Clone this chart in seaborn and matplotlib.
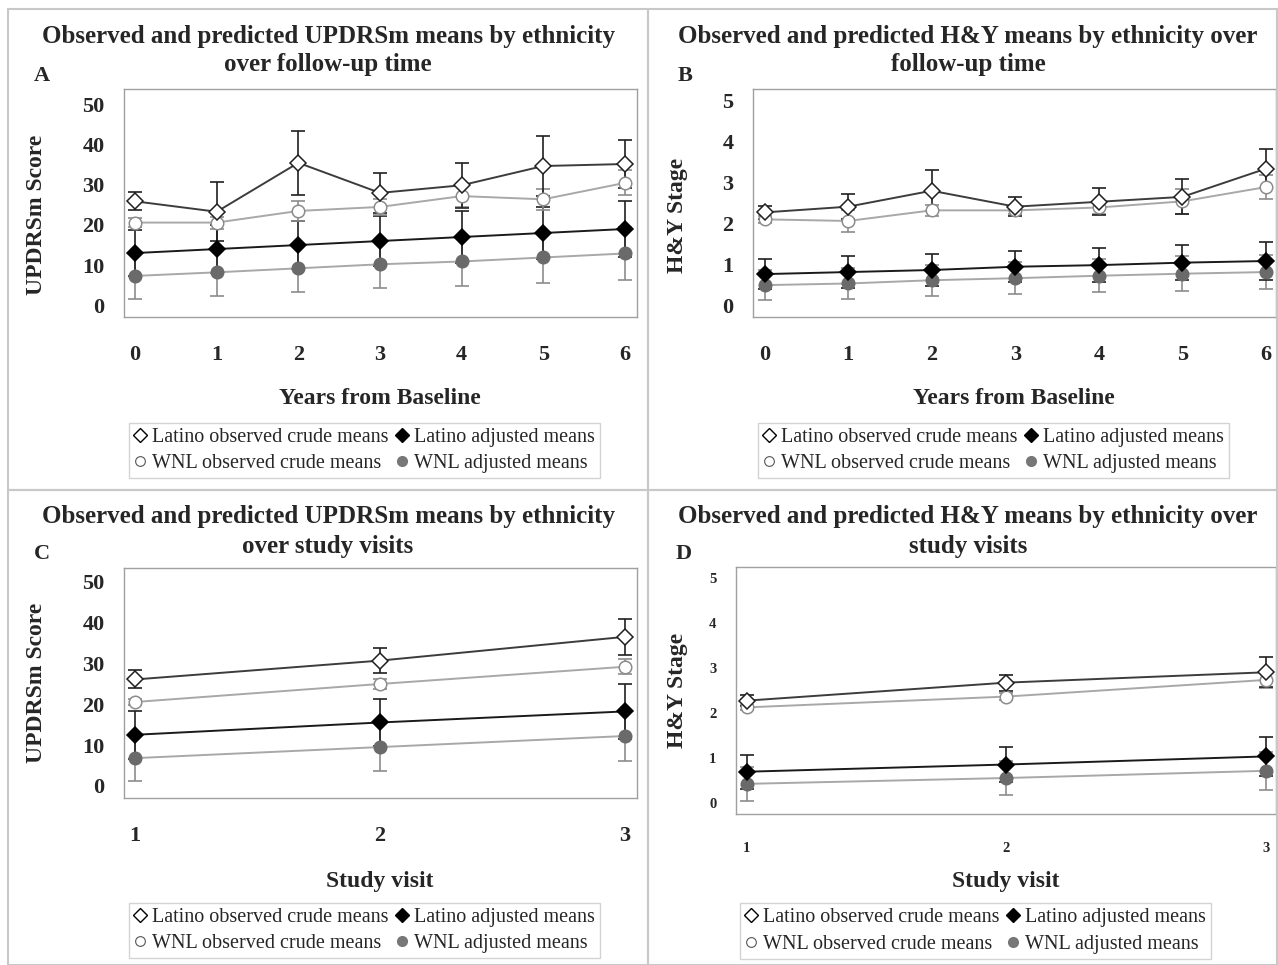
import matplotlib
matplotlib.use("Agg")
import matplotlib.pyplot as plt
from matplotlib.lines import Line2D
from matplotlib.patches import Rectangle
import seaborn as sns

# ---- data ----
years = [0, 1, 2, 3, 4, 5, 6]
visits = [1, 2, 3]

# A: UPDRSm by follow-up year
a_lat_crude = [25.9, 23.3, 35.5, 28.0, 29.9, 34.7, 35.2]
a_lat_crude_err = [2.2, 7.3, 8.0, 5.0, 5.6, 7.5, 6.0]
a_wnl_crude = [20.6, 20.6, 23.5, 24.5, 27.2, 26.4, 30.5]
a_wnl_crude_err = [1.2, 1.5, 2.5, 2.0, 2.8, 2.6, 3.1]
a_lat_adj = [13.0, 14.0, 15.0, 16.0, 17.0, 18.0, 19.0]
a_lat_adj_err = [5.8, 6.0, 6.0, 6.3, 6.4, 6.5, 7.0]
a_wnl_adj = [7.3, 8.2, 9.2, 10.2, 10.9, 11.9, 12.9]
a_wnl_adj_err = [5.7, 5.8, 5.8, 6.0, 6.0, 6.3, 6.5]

# B: H&Y by follow-up year
b_lat_crude = [2.27, 2.41, 2.80, 2.41, 2.53, 2.65, 3.34]
b_lat_crude_err = [0.16, 0.31, 0.50, 0.23, 0.33, 0.43, 0.48]
b_wnl_crude = [2.10, 2.06, 2.32, 2.32, 2.39, 2.54, 2.89]
b_wnl_crude_err = [0.08, 0.27, 0.13, 0.10, 0.17, 0.31, 0.29]
b_lat_adj = [0.76, 0.81, 0.86, 0.94, 0.98, 1.04, 1.08]
b_lat_adj_err = [0.36, 0.40, 0.39, 0.38, 0.41, 0.43, 0.46]
b_wnl_adj = [0.49, 0.53, 0.61, 0.66, 0.72, 0.77, 0.81]
b_wnl_adj_err = [0.37, 0.37, 0.38, 0.39, 0.41, 0.43, 0.42]

# C: UPDRSm by study visit
c_lat_crude = [26.0, 30.6, 36.4]
c_lat_crude_err = [2.2, 3.1, 4.4]
c_wnl_crude = [20.5, 24.9, 29.1]
c_wnl_crude_err = [0.8, 1.2, 1.8]
c_lat_adj = [12.5, 15.5, 18.2]
c_lat_adj_err = [5.8, 5.8, 6.7]
c_wnl_adj = [6.8, 9.5, 12.2]
c_wnl_adj_err = [5.5, 5.8, 6.1]

# D: H&Y by study visit
d_lat_crude = [2.27, 2.67, 2.90]
d_lat_crude_err = [0.13, 0.18, 0.33]
d_wnl_crude = [2.12, 2.36, 2.73]
d_wnl_crude_err = [0.05, 0.08, 0.17]
d_lat_adj = [0.69, 0.85, 1.03]
d_lat_adj_err = [0.38, 0.39, 0.44]
d_wnl_adj = [0.42, 0.55, 0.71]
d_wnl_adj_err = [0.38, 0.38, 0.42]

legend_labels = ["Latino observed crude means", "WNL observed crude means",
                 "Latino adjusted means", "WNL adjusted means"]

sns.set_style("white")
plt.rcParams["font.family"] = ["Liberation Serif", "DejaVu Serif"]

W, H = 1278, 965
fig = plt.figure(figsize=(W / 100, H / 100), dpi=100)


def px_axes(left, top, right, bottom):
    return fig.add_axes([left / W, 1 - bottom / H, (right - left) / W, (bottom - top) / H])


def ftext(x, y, s, **kw):
    fig.text(x / W, 1 - y / H, s, **kw)


# panel cell borders
for (x0, y0, x1, y1) in [(8, 9, 648, 490), (648, 9, 1277, 490),
                         (8, 490, 648, 965), (648, 490, 1277, 965)]:
    fig.add_artist(Rectangle((x0 / W, 1 - y1 / H), (x1 - x0) / W, (y1 - y0) / H,
                             transform=fig.transFigure, fill=False,
                             edgecolor="#c8c8c8", linewidth=1.5))

LAT_LINE = "#3c3c3c"
WNL_LINE = "#a8a8a8"
WNL_FILL = "#6a6a6a"

styles = {
    "lat_crude": dict(color=LAT_LINE, marker="D", markerfacecolor="white",
                      markeredgecolor="#202020", ecolor="#202020", ms=8),
    "wnl_crude": dict(color=WNL_LINE, marker="o", markerfacecolor="white",
                      markeredgecolor="#8c8c8c", ecolor="#8c8c8c", ms=9),
    "lat_adj": dict(color="#1a1a1a", marker="D", markerfacecolor="black",
                    markeredgecolor="black", ecolor="#202020", ms=8),
    "wnl_adj": dict(color=WNL_LINE, marker="o", markerfacecolor=WNL_FILL,
                    markeredgecolor=WNL_FILL, ecolor="#8c8c8c", ms=9),
}


def draw_panel(ax, x, series, xlim, ylim, yticks, xticks, tick_fs):
    for key, (vals, errs) in series.items():
        st = styles[key]
        ax.errorbar(x, vals, yerr=errs, fmt="none", ecolor=st["ecolor"],
                    elinewidth=1.2, capsize=5, capthick=1.2, zorder=2)
    for key, (vals, errs) in series.items():
        st = styles[key]
        sns.lineplot(x=x, y=vals, ax=ax, color=st["color"], linewidth=1.4,
                     marker=st["marker"], markersize=st["ms"],
                     markerfacecolor=st["markerfacecolor"],
                     markeredgecolor=st["markeredgecolor"], markeredgewidth=1.1,
                     zorder=3)
    ax.set_xlim(*xlim)
    ax.set_ylim(*ylim)
    ax.set_xticks(xticks)
    ax.set_yticks(yticks)
    ax.set_xlabel("")
    ax.set_ylabel("")
    for s in ax.spines.values():
        s.set_color("#a0a0a0")
        s.set_linewidth(1.0)
    ax.tick_params(axis="both", direction="out", color="#a0a0a0", width=1.0,
                   length=8, labelsize=tick_fs)
    ax.tick_params(axis="x", pad=12)
    ax.tick_params(axis="y", pad=6)
    for lab in ax.get_xticklabels() + ax.get_yticklabels():
        lab.set_fontweight("bold")


def add_legend(left, top, right, bottom):
    handles = [
        Line2D([], [], linestyle="none", marker="D", ms=7, mfc="white", mec="black", mew=1.0),
        Line2D([], [], linestyle="none", marker="o", ms=7, mfc="white", mec="#555555", mew=0.8),
        Line2D([], [], linestyle="none", marker="D", ms=7, mfc="black", mec="black"),
        Line2D([], [], linestyle="none", marker="o", ms=7, mfc="#777777", mec="#777777"),
    ]
    leg = fig.legend(handles, legend_labels, ncol=2, loc="center",
                     bbox_to_anchor=(((left + right) / 2) / W, 1 - ((top + bottom) / 2) / H),
                     fontsize=14.5, frameon=True, fancybox=False, handlelength=0.6,
                     handletextpad=0.3, columnspacing=0.4, labelspacing=0.38,
                     borderpad=0.25, borderaxespad=0)
    leg.get_frame().set_edgecolor("#c8c8c8")
    leg.get_frame().set_linewidth(1.0)


title_kw = dict(fontsize=18, fontweight="bold", ha="center", va="center")
label_kw = dict(fontsize=17, fontweight="bold", ha="center", va="center")
letter_kw = dict(fontsize=16, fontweight="bold", ha="center", va="center")

# ---- Panel A ----
axA = px_axes(124, 89, 637, 317)
draw_panel(axA, years,
           {"wnl_adj": (a_wnl_adj, a_wnl_adj_err), "lat_adj": (a_lat_adj, a_lat_adj_err),
            "wnl_crude": (a_wnl_crude, a_wnl_crude_err), "lat_crude": (a_lat_crude, a_lat_crude_err)},
           (-0.135, 6.147), (-2.94, 53.9), [0, 10, 20, 30, 40, 50], years, 16)
ftext(328, 36, "Observed and predicted UPDRSm means by ethnicity", **title_kw)
ftext(328, 65, "over follow-up time", **title_kw)
ftext(42, 76, "A", **letter_kw)
ftext(37, 215, "UPDRSm Score", rotation=90, **label_kw)
ftext(380, 399, "Years from Baseline", **label_kw)
add_legend(123, 423, 606, 478)

# ---- Panel B ----
axB = px_axes(753, 89, 1276, 317)
draw_panel(axB, years,
           {"wnl_adj": (b_wnl_adj, b_wnl_adj_err), "lat_adj": (b_lat_adj, b_lat_adj_err),
            "wnl_crude": (b_wnl_crude, b_wnl_crude_err), "lat_crude": (b_lat_crude, b_lat_crude_err)},
           (-0.138, 6.12), (-0.29, 5.29), [0, 1, 2, 3, 4, 5], years, 16)
ftext(968, 36, "Observed and predicted H&Y means by ethnicity over", **title_kw)
ftext(968, 65, "follow-up time", **title_kw)
ftext(685, 76, "B", **letter_kw)
ftext(678, 215, "H&Y Stage", rotation=90, **label_kw)
ftext(1014, 399, "Years from Baseline", **label_kw)
add_legend(753, 423, 1234, 478)

# ---- Panel C ----
axC = px_axes(124, 568, 637, 798)
draw_panel(axC, visits,
           {"wnl_adj": (c_wnl_adj, c_wnl_adj_err), "lat_adj": (c_lat_adj, c_lat_adj_err),
            "wnl_crude": (c_wnl_crude, c_wnl_crude_err), "lat_crude": (c_lat_crude, c_lat_crude_err)},
           (0.955, 3.049), (-2.93, 53.2), [0, 10, 20, 30, 40, 50], visits, 16)
ftext(328, 517, "Observed and predicted UPDRSm means by ethnicity", **title_kw)
ftext(328, 546, "over study visits", **title_kw)
ftext(42, 554, "C", **letter_kw)
ftext(37, 683, "UPDRSm Score", rotation=90, **label_kw)
ftext(380, 881, "Study visit", **label_kw)
add_legend(123, 903, 606, 958)

# ---- Panel D ----
axD = px_axes(736, 567, 1276, 814)
draw_panel(axD, visits,
           {"wnl_adj": (d_wnl_adj, d_wnl_adj_err), "lat_adj": (d_lat_adj, d_lat_adj_err),
            "wnl_crude": (d_wnl_crude, d_wnl_crude_err), "lat_crude": (d_lat_crude, d_lat_crude_err)},
           (0.958, 3.039), (-0.25, 5.24), [0, 1, 2, 3, 4, 5], visits, 10.5)
ftext(968, 517, "Observed and predicted H&Y means by ethnicity over", **title_kw)
ftext(968, 546, "study visits", **title_kw)
ftext(684, 554, "D", **letter_kw)
ftext(678, 690, "H&Y Stage", rotation=90, **label_kw)
ftext(1006, 881, "Study visit", **label_kw)
add_legend(735, 903, 1216, 959)

fig.savefig("out.png", dpi=100)
plt.close(fig)
